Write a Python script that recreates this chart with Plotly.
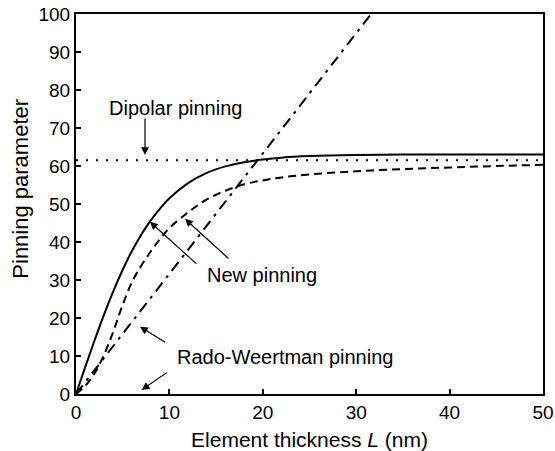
import plotly.graph_objects as go

# ---- data ----
L_solid = [0, 1, 2, 3, 4, 5, 6, 7, 8, 9, 10, 12, 14, 16, 18, 20, 22, 25, 30, 35, 40, 45, 50]
new_solid = [0, 7.2, 14.2, 20.9, 27.1, 32.7, 37.7, 42.0, 45.7, 48.8, 51.5, 55.5, 58.2,
             59.9, 61.0, 61.7, 62.2, 62.6, 62.9, 63.0, 63.0, 63.0, 63.0]

L_dashed = [0, 1, 2, 3, 4, 5, 6, 7, 8, 9, 10, 12, 14, 16, 18, 20, 22, 25, 30, 35, 40, 45, 50]
new_dashed = [0, 2.2, 5.5, 10.3, 16.5, 23.5, 29.5, 33.8, 37.5, 40.8, 43.7, 47.8, 51.2,
              53.5, 55.2, 56.2, 57.0, 57.8, 58.6, 59.2, 59.6, 60.0, 60.3]

L_rw = [0, 31.6]
rado_weertman = [0, 100]

L_dip = [0, 50]
dipolar = [61.5, 61.5]

x_ticks = [0, 10, 20, 30, 40, 50]
y_ticks = [0, 10, 20, 30, 40, 50, 60, 70, 80, 90, 100]

FONT = "Liberation Sans, Arial, Helvetica, sans-serif"

fig = go.Figure()
fig.add_trace(go.Scatter(x=L_dip, y=dipolar, mode="lines",
                         line=dict(color="black", width=2, dash="2px,8px"), showlegend=False))
fig.add_trace(go.Scatter(x=L_rw, y=rado_weertman, mode="lines",
                         line=dict(color="black", width=2, dash="11px,6px,3px,6px"), showlegend=False))
fig.add_trace(go.Scatter(x=L_dashed, y=new_dashed, mode="lines", line_shape="spline",
                         line=dict(color="black", width=2, dash="8px,5px"), showlegend=False))
fig.add_trace(go.Scatter(x=L_solid, y=new_solid, mode="lines", line_shape="spline",
                         line=dict(color="black", width=2), showlegend=False))

ann_font = dict(family=FONT, size=20, color="black")
annotations = [
    dict(x=10.6, y=75.3, text="Dipolar pinning", showarrow=False, font=ann_font),
    dict(x=19.9, y=31.3, text="New pinning", showarrow=False, font=ann_font),
    dict(x=22.4, y=9.7, text="Rado-Weertman pinning", showarrow=False, font=ann_font),
    dict(x=0, y=0.539, xref="paper", yref="paper", xshift=-55.5, textangle=-90,
         text="Pinning parameter", showarrow=False, xanchor="center", yanchor="middle",
         font=dict(family=FONT, size=22, color="black")),
]
arrows = [
    ((7.39, 62.9), (7.39, 72.9)),
    ((7.92, 45.3), (13.06, 33.9)),
    ((11.67, 46.1), (16.49, 35.3)),
    ((6.85, 17.7), (9.71, 13.4)),
    ((7.03, 1.05), (9.88, 5.9)),
]
for (tx, ty), (sx, sy) in arrows:
    annotations.append(dict(x=tx, y=ty, ax=sx, ay=sy, xref="x", yref="y", axref="x", ayref="y",
                            text="", showarrow=True, arrowhead=2, arrowsize=1.3, arrowwidth=1.2,
                            arrowcolor="black", standoff=0, startstandoff=0))

fig.update_layout(
    width=555, height=451,
    margin=dict(l=76, r=12, t=14, b=57),
    paper_bgcolor="white", plot_bgcolor="white",
    font=dict(family=FONT, color="black"),
    annotations=annotations,
    xaxis=dict(range=[0, 50], tickvals=x_ticks, ticks="inside", ticklen=5, tickwidth=1.5,
               tickcolor="black", showline=True, linecolor="black", linewidth=2, mirror=True,
               showgrid=False, zeroline=False, tickfont=dict(size=19), automargin=False,
               title=dict(text="Element thickness <i>L</i> (nm)", font=dict(size=21))),
    yaxis=dict(range=[0, 100], tickvals=y_ticks, ticks="inside", ticklen=5, tickwidth=1.5,
               tickcolor="black", showline=True, linecolor="black", linewidth=2, mirror=True,
               showgrid=False, zeroline=False, tickfont=dict(size=19), automargin=False),
)

fig.write_html("out.html", config={"displayModeBar": False},
               post_script="document.body.style.margin='0';")
